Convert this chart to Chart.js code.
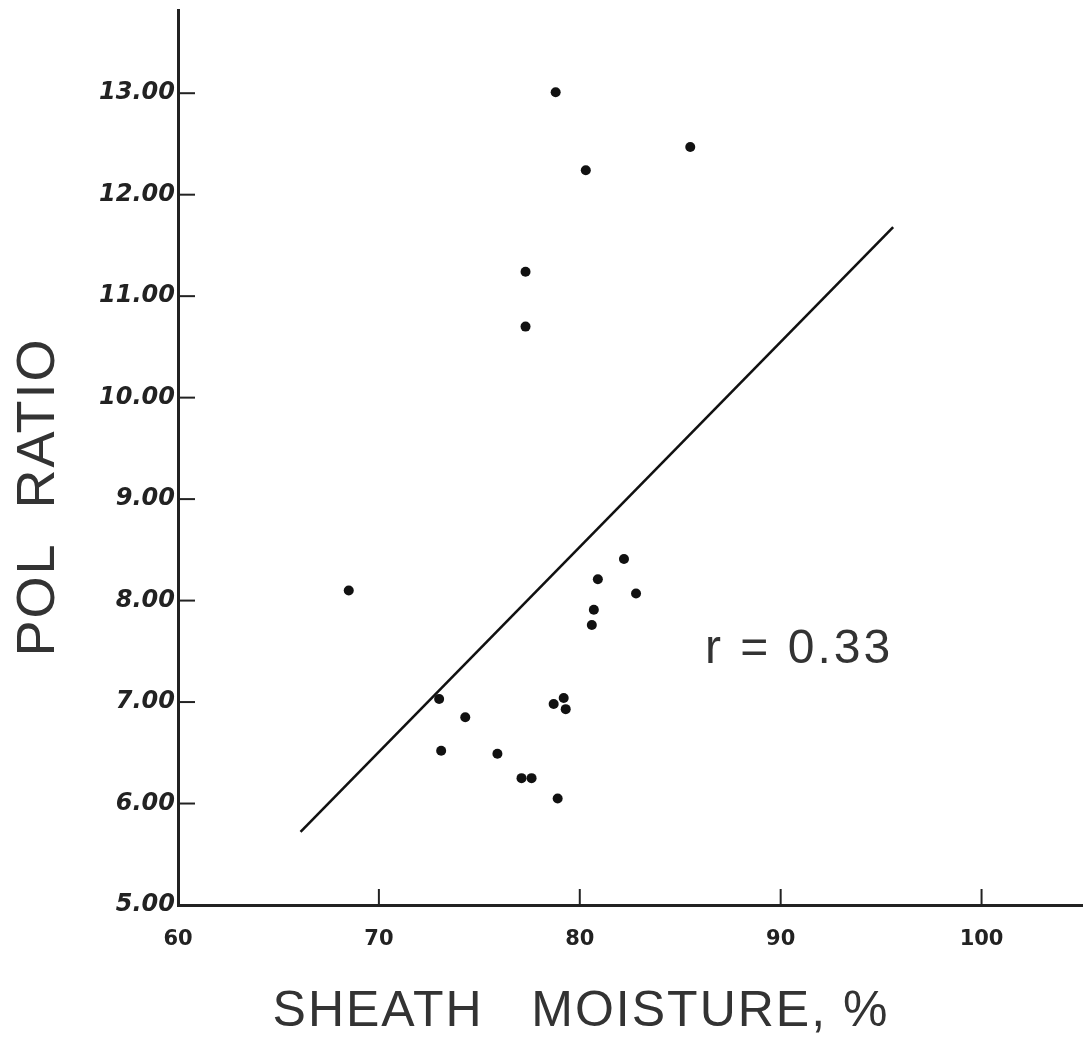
<!DOCTYPE html>
<html>
<head>
<meta charset="utf-8">
<script src="https://cdn.jsdelivr.net/npm/chart.js@4.4.1/dist/chart.umd.min.js"></script>
<style>
  html, body { margin: 0; padding: 0; background: #ffffff; }
  #wrap { width: 1087px; height: 1063px; }
</style>
</head>
<body>
<div id="wrap"><canvas id="c" width="1087" height="1063"></canvas></div>
<script>
// ---- data ----
const sheathMoisture = [68.5, 73.0, 73.1, 74.3, 75.9, 77.1, 77.6, 78.9, 78.7, 79.2, 79.3,
                        77.3, 77.3, 78.8, 80.3, 85.5, 82.2, 80.9, 82.8, 80.7, 80.6];
const polRatio       = [8.10, 7.03, 6.52, 6.85, 6.49, 6.25, 6.25, 6.05, 6.98, 7.04, 6.93,
                        11.24, 10.70, 13.01, 12.24, 12.47, 8.41, 8.21, 8.07, 7.91, 7.76];
const fitMoisture = [66.1, 95.6];
const fitPol      = [5.72, 11.68];
const xTickValues = [60, 70, 80, 90, 100];
const yTickValues = [5, 6, 7, 8, 9, 10, 11, 12, 13];
const xTitle = 'SHEATH   MOISTURE, %';
const yTitle = 'POL  RATIO';
const annotationText = 'r = 0.33';

const points = sheathMoisture.map((m, i) => ({ x: m, y: polRatio[i] }));
const fitLine = fitMoisture.map((m, i) => ({ x: m, y: fitPol[i] }));

const ink = '#222';

const overlay = {
  id: 'overlay',
  afterDraw(chart) {
    const { ctx, scales: { x, y } } = chart;
    ctx.save();
    // inward tick marks
    ctx.strokeStyle = ink;
    ctx.lineWidth = 2;
    yTickValues.forEach(v => {
      if (v === 5) return;
      const py = y.getPixelForValue(v);
      ctx.beginPath(); ctx.moveTo(x.left, py); ctx.lineTo(x.left + 17, py); ctx.stroke();
    });
    xTickValues.forEach(v => {
      if (v === 60) return;
      const px = x.getPixelForValue(v);
      ctx.beginPath(); ctx.moveTo(px, y.bottom); ctx.lineTo(px, y.bottom - 16); ctx.stroke();
    });
    // titles
    ctx.fillStyle = '#333';
    ctx.textBaseline = 'middle';
    ctx.font = '54px "Liberation Sans"';
    ctx.letterSpacing = '2px';
    ctx.textAlign = 'center';
    ctx.save();
    ctx.translate(39, 497);
    ctx.rotate(-Math.PI / 2);
    ctx.fillText(yTitle, 0, 0);
    ctx.restore();
    ctx.font = '50px "Liberation Sans"';
    ctx.letterSpacing = '2px';
    ctx.fillText(xTitle, 581, 1012);
    ctx.textAlign = 'left';
    ctx.font = '48px "Liberation Sans"';
    ctx.letterSpacing = '3px';
    ctx.fillText(annotationText, 705, 650);
    ctx.restore();
  }
};

new Chart(document.getElementById('c'), {
  type: 'scatter',
  data: {
    datasets: [
      {
        label: 'observations',
        data: points,
        pointRadius: 5,
        pointHoverRadius: 5,
        pointBackgroundColor: '#111',
        pointBorderColor: '#111',
        pointBorderWidth: 0,
        showLine: false
      },
      {
        label: 'regression',
        type: 'line',
        data: fitLine,
        borderColor: '#111',
        borderWidth: 2.6,
        pointRadius: 0,
        fill: false,
        tension: 0
      }
    ]
  },
  options: {
    responsive: false,
    animation: false,
    events: [],
    layout: { padding: { top: 10, right: 0, left: 0, bottom: 0 } },
    plugins: { legend: { display: false }, tooltip: { enabled: false } },
    scales: {
      x: {
        type: 'linear',
        min: 60,
        max: 105.0,
        grid: { display: false, drawTicks: false, tickLength: 0 },
        border: { display: true, color: ink, width: 3 },
        ticks: {
          stepSize: 10,
          includeBounds: false,
          padding: 22,
          color: ink,
          font: { family: 'DejaVu Sans', size: 21, weight: 'bold' },
          callback: v => xTickValues.includes(v) ? String(v) : ''
        },
        afterFit: s => { s.height = 158; s.paddingLeft = 0; s.paddingRight = 0; }
      },
      y: {
        type: 'linear',
        min: 5,
        max: 13.82,
        grid: { display: false, drawTicks: false, tickLength: 0 },
        border: { display: true, color: ink, width: 3 },
        ticks: {
          stepSize: 1,
          includeBounds: false,
          padding: 3,
          color: ink,
          font: { family: 'DejaVu Sans', size: 24, weight: 'bold', style: 'italic' },
          callback: v => yTickValues.includes(v) ? v.toFixed(2) : ''
        },
        afterFit: s => { s.width = 178; s.paddingTop = 0; s.paddingBottom = 0; }
      }
    }
  },
  plugins: [overlay]
});
</script>
</body>
</html>
